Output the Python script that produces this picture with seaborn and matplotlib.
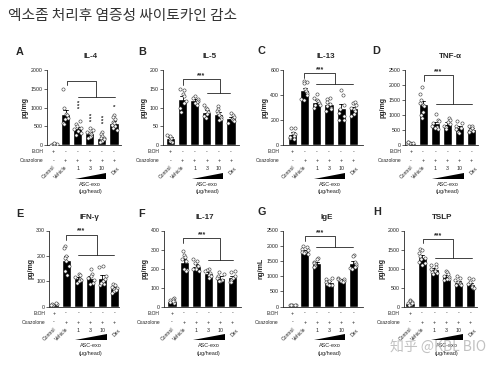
import numpy as np
import pandas as pd
import matplotlib
matplotlib.use("Agg")
import matplotlib.pyplot as plt
from matplotlib.transforms import blended_transform_factory
import seaborn as sns

sns.set_style("ticks")
plt.rcParams['font.family'] = ['Liberation Sans', 'DejaVu Sans']
np.random.seed(7)

W, H = 500, 370

# ---- data ----
groups = ['Control', 'Vehicle', '1', '3', '10', 'Dex']
etoh = ['+', '-', '-', '-', '-', '-']
oxazolone = ['-', '+', '+', '+', '+', '+']
dose_labels = ['', '', '1', '3', '10', '']

titles = ['IL-4', 'IL-5', 'IL-13', 'TNF-α', 'IFN-γ', 'IL-17', 'IgE', 'TSLP']
letters = ['A', 'B', 'C', 'D', 'E', 'F', 'G', 'H']
units = ['pg/mg', 'pg/mg', 'pg/mg', 'pg/mg', 'pg/mg', 'pg/mg', 'ng/mL', 'pg/mg']
y_max = [2000, 200, 600, 2500, 300, 400, 2500, 2000]
y_step = [500, 50, 200, 500, 100, 100, 500, 500]

il4 = [[10, 20, 25, 30, 15, 40, 50],
       [1484, 1000, 820, 800, 720, 700, 600, 550],
       [650, 560, 500, 450, 420, 380, 330, 260],
       [450, 400, 350, 320, 290, 250, 220, 200],
       [350, 300, 250, 200, 180, 150, 120, 100, 80],
       [800, 760, 700, 620, 580, 520, 450, 400, 540]]
il5 = [[8, 12, 15, 18, 20, 25, 28],
       [150, 146, 136, 132, 118, 112, 98, 88],
       [132, 126, 122, 118, 115, 112, 108],
       [108, 100, 95, 88, 84, 78, 72],
       [103, 96, 90, 85, 80, 76, 70, 66],
       [85, 80, 74, 70, 67, 64, 60]]
il13 = [[140, 135, 100, 85, 75, 60, 50, 65],
        [510, 505, 500, 450, 430, 420, 400, 370, 360],
        [410, 380, 360, 350, 340, 320, 300, 320],
        [380, 370, 345, 330, 315, 300, 290, 270],
        [440, 400, 320, 290, 260, 230, 200, 200],
        [340, 345, 320, 300, 290, 270, 250, 230]]
tnfa = [[40, 60, 80, 100, 110],
        [1950, 1700, 1500, 1400, 1350, 1300, 1100, 1000, 900],
        [1050, 850, 800, 720, 650, 600, 550, 560],
        [900, 850, 780, 700, 650, 600, 520],
        [800, 720, 650, 580, 520, 450, 400],
        [650, 620, 560, 500, 460, 420, 440]]
ifng = [[5, 8, 10, 12, 15, 6],
        [240, 232, 200, 190, 180, 160, 140, 125],
        [130, 125, 118, 110, 105, 100, 95],
        [150, 130, 120, 112, 105, 95, 90],
        [160, 158, 120, 110, 100, 90, 85, 95],
        [90, 85, 78, 72, 68, 62, 55, 66]]
il17 = [[45, 40, 35, 30, 25, 20, 30],
        [290, 270, 260, 250, 240, 200, 195, 190],
        [250, 240, 230, 215, 205, 200, 190, 198],
        [200, 195, 185, 175, 165, 160, 150],
        [180, 172, 160, 150, 140, 135, 134],
        [190, 180, 160, 150, 140, 130, 128]]
ige = [[40, 50, 60, 70, 55],
       [1980, 1950, 1900, 1850, 1800, 1780, 1720, 1760],
       [1600, 1580, 1480, 1420, 1380, 1350, 1300, 1290],
       [950, 900, 850, 800, 760, 720, 700, 720],
       [950, 920, 900, 870, 850, 830, 820],
       [1700, 1650, 1480, 1400, 1350, 1300, 1280, 1240]]
tslp = [[180, 150, 120, 90, 60, 40, 95],
        [1520, 1480, 1400, 1320, 1280, 1250, 1150, 1100, 1180],
        [1130, 1100, 1050, 1000, 950, 900, 850, 880],
        [950, 900, 850, 800, 770, 740, 700, 740],
        [800, 750, 700, 650, 620, 600, 560, 580],
        [750, 720, 650, 600, 550, 500, 520, 480]]
panel_data = [il4, il5, il13, tnfa, ifng, il17, ige, tslp]

# ---- layout (pixels) ----
spacing = 12.1
axis_left = [47, 163, 283.3, 405, 49.3, 164, 282.7, 404]
first_bar = [53.5, 170.5, 292.7, 411, 54, 172, 292.7, 410]
row_top = [70, 230.5]
row_bottom = [145, 306.7]
title_x = [90, 210, 326, 450, 89, 205, 327, 442]
letter_xy = [(20, 52), (142, 52), (261, 51), (376, 51),
             (20, 214), (142, 214), (262, 212), (377, 212)]

# bracket: (top, left drop, lower line, x left, x right, lower x0, lower x1)
brackets = [(1716, 1600, 1289, 1.15, 3.55, 2.0, 5.05),
            (176, 160, 140, 1.05, 4.05, 3.0, 4.95),
            (573, 533, 488, 0.95, 3.5, 1.95, 4.95),
            (2333, 2144, 1356, 1.05, 3.5, 2.05, 5.0),
            (284, 261, 202, 1.0, 3.55, 1.95, 5.0),
            (360, 333, 246, 0.95, 4.0, 3.0, 5.05),
            (2325, 2171, 1952, 1.05, 3.5, 1.95, 5.0),
            (1772, 1667, 1290, 1.1, 3.55, 2.1, 5.1)]
# IL-4 has per-bar significance instead of a bracket label
il4_marks = {2: ('*\n*\n*', 1022), 3: ('*\n*\n*', 684), 4: ('*\n*\n*', 622), 5: ('*', 1000)}


def yf(px):
    return 1 - px / H


fig = plt.figure(figsize=(W / 100, H / 100), dpi=100)

fig.text(8 / W, yf(16), '엑소좀 처리후 염증성 싸이토카인 감소', ha='left', va='center',
         fontsize=10.6, color='#333333', family=['Noto Sans CJK KR', 'DejaVu Sans'])

for k in range(8):
    row = k // 4
    top, bottom = row_top[row], row_bottom[row]
    margin = first_bar[k] - axis_left[k]
    width = 5 * spacing + 2 * margin
    ax = fig.add_axes([axis_left[k] / W, yf(bottom), width / W, (bottom - top) / H])

    df = pd.DataFrame([(groups[i], v) for i, vals in enumerate(panel_data[k]) for v in vals],
                      columns=['group', 'value'])
    sns.barplot(data=df, x='group', y='value', order=groups, color='black', width=0.75,
                errorbar='se', capsize=0.35, saturation=1,
                err_kws={'linewidth': 0.6, 'color': 'black'}, ax=ax)
    sns.stripplot(data=df, x='group', y='value', order=groups, jitter=0.28, size=2.3,
                  color='white', edgecolor='#333333', linewidth=0.4, ax=ax)

    m = margin / spacing
    ax.set_xlim(-m, 5 + m)
    ax.set_ylim(0, y_max[k])
    ax.set_yticks(np.arange(0, y_max[k] + 1, y_step[k]))
    ax.set_xticks([])
    ax.set_xlabel('')
    ax.set_ylabel(units[k], fontsize=5, fontweight='bold', labelpad=1.5)
    ax.tick_params(axis='y', length=2, width=0.5, pad=1, labelsize=3.8, colors='#222222')
    for s in ['top', 'right']:
        ax.spines[s].set_visible(False)
    for s in ['left', 'bottom']:
        ax.spines[s].set_linewidth(0.6)

    # significance bracket
    bt, bl, bd, xl, xr, lx0, lx1 = brackets[k]
    ax.plot([xl, xl, xr, xr], [bl, bt, bt, bd], color='#222222', lw=0.6, clip_on=False)
    ax.plot([lx0, lx1], [bd, bd], color='#222222', lw=0.6, clip_on=False)
    if k == 0:
        for i, (txt, yv) in il4_marks.items():
            ax.text(i, yv, txt, ha='center', va='center', fontsize=4.5, fontweight='bold',
                    linespacing=0.55)
    else:
        ax.text((xl + xr) / 2, bt, '***', ha='center', va='bottom', fontsize=5,
                fontweight='bold')

    # titles and letters
    fig.text(title_x[k] / W, yf(top - 13), titles[k], ha='center', va='center',
             fontsize=5.8, fontweight='bold')
    lx, ly = letter_xy[k]
    fig.text(lx / W, yf(ly), letters[k], ha='center', va='center', fontsize=7.8,
             fontweight='heavy')

    # treatment table below the axis
    tr = blended_transform_factory(ax.transData, fig.transFigure)
    fig.text((axis_left[k] - 4) / W, yf(bottom + 6.5), 'EtOH', ha='right', va='center',
             fontsize=3.5)
    fig.text((axis_left[k] - 4) / W, yf(bottom + 15.5), 'Oxazolone', ha='right',
             va='center', fontsize=3.5)
    for i in range(6):
        ax.text(i, yf(bottom + 6.5), etoh[i], transform=tr, ha='center', va='center',
                fontsize=3.8)
        ax.text(i, yf(bottom + 15.5), oxazolone[i], transform=tr, ha='center',
                va='center', fontsize=3.8)
        if dose_labels[i]:
            ax.text(i, yf(bottom + 23.5), dose_labels[i], transform=tr, ha='center',
                    va='center', fontsize=3.8)
    ax.text(0.1, yf(bottom + 21.5), 'Control', transform=tr, rotation=45,
            rotation_mode='anchor', ha='right', va='center', fontsize=3.6)
    ax.text(1.1, yf(bottom + 21.5), 'Vehicle', transform=tr, rotation=45,
            rotation_mode='anchor', ha='right', va='center', fontsize=3.6)
    ax.text(5.15, yf(bottom + 26), 'Dex', transform=tr, rotation=45, ha='center',
            va='center', fontsize=3.6)
    ax.fill([1.75, 4.35, 4.35], [yf(bottom + 33.5), yf(bottom + 33.5), yf(bottom + 27.5)],
            transform=tr, color='black', lw=0, clip_on=False)
    ax.text(3.05, yf(bottom + 39), 'ASC-exo', transform=tr, ha='center', va='center',
            fontsize=4)
    ax.text(3.05, yf(bottom + 47), '(μg/head)', transform=tr, ha='center', va='center',
            fontsize=4)

# site watermark sits over panel H's dose label, as in the source image
fig.text(390 / W, yf(348), '知乎 @KBL BIO', ha='left', va='center', fontsize=10,
         color='#bbbbbb', alpha=0.9, family=['Noto Sans CJK SC', 'DejaVu Sans'])

fig.savefig('out.png', dpi=100)
